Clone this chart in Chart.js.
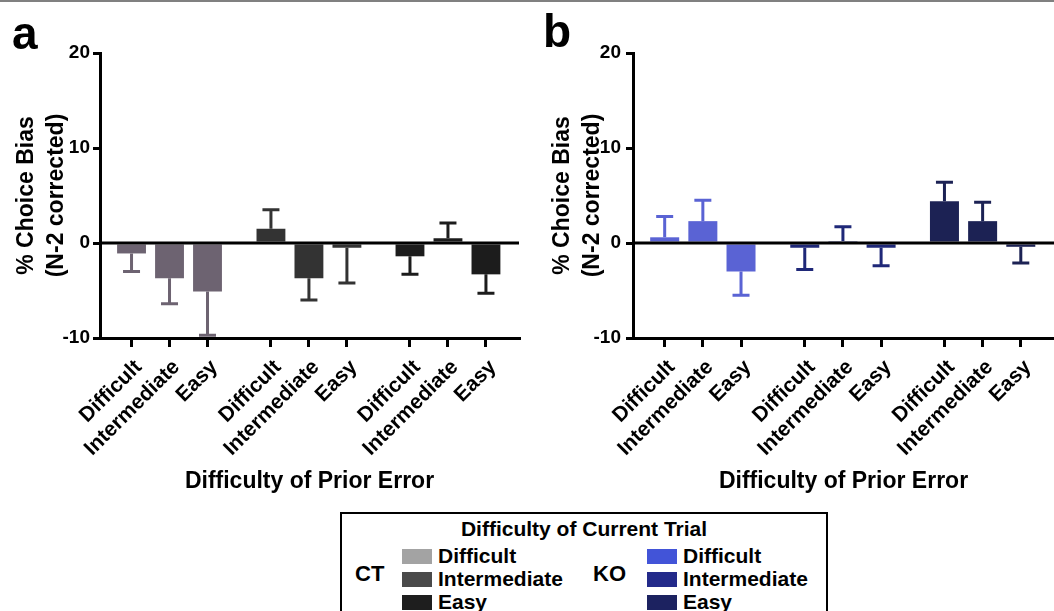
<!DOCTYPE html>
<html>
<head>
<meta charset="utf-8">
<script src="https://cdn.jsdelivr.net/npm/chart.js@4.4.1/dist/chart.umd.min.js"></script>
<style>
body { margin: 0; background: #fff; }
#wrap { position: relative; width: 1054px; height: 611px; overflow: hidden; font-family: "Liberation Sans", Arial, sans-serif; font-weight: bold; color: #000; }
#topline { position: absolute; left: 0; top: 0; width: 1054px; height: 2px; background: #808080; }
canvas { position: absolute; top: 0; }
.letter { position: absolute; font-size: 46px; line-height: 1; }
#legend { position: absolute; left: 340px; top: 512px; width: 488px; height: 120px; border: 2px solid #000; box-sizing: border-box; }
#legend .ttl { position: absolute; left: 0; width: 100%; top: 3px; text-align: center; font-size: 21px; }
#legend .grp { position: absolute; top: 47px; font-size: 22px; }
#legend .row { position: absolute; height: 23px; font-size: 21px; line-height: 23px; white-space: nowrap; }
#legend .sw { display: inline-block; width: 30px; height: 15px; vertical-align: -1px; margin-right: 6px; }
</style>
</head>
<body>
<div id="wrap">
  <div id="topline"></div>
  <canvas id="chartA" width="527" height="500" style="left:0"></canvas>
  <canvas id="chartB" width="527" height="500" style="left:527px"></canvas>
  <div class="letter" style="left:12px;top:10px">a</div>
  <div class="letter" style="left:543px;top:8px">b</div>
  <div id="legend"></div>
</div>
<script>
// positions of the nine bars on the x axis (three groups of three)
const xPositions = [0, 1, 2, 3.67, 4.67, 5.67, 7.33, 8.33, 9.33];
const tickLabels = ['Difficult', 'Intermediate', 'Easy', 'Difficult', 'Intermediate', 'Easy', 'Difficult', 'Intermediate', 'Easy'];
const yTicks = [-10, 0, 10, 20];

// panel a: CT mice
const ctMeans = [-1.1, -3.7, -5.1, 1.5, -3.7, -0.5, -1.4, 0.5, -3.3];
const ctSem = [1.9, 2.7, 4.6, 2.0, 2.3, 3.7, 1.9, 1.6, 2.0];

// panel b: KO mice
const koMeans = [0.6, 2.3, -3.0, -0.5, 0.2, -0.5, 4.4, 2.3, -0.4];
const koSem = [2.2, 2.2, 2.5, 2.3, 1.5, 1.9, 2.0, 2.0, 1.7];

const legendTitle = 'Difficulty of Current Trial';
const currentLabels = ['Difficult', 'Intermediate', 'Easy'];

const FONT = '"Liberation Sans", Arial, sans-serif';

const errorBars = {
    id: 'errorBars',
    afterDatasetsDraw(chart, args, opts) {
        const { ctx, chartArea } = chart;
        const y = chart.scales.y;
        const ds = chart.data.datasets[0];
        const meta = chart.getDatasetMeta(0);
        ctx.save();
        ctx.lineWidth = 3;
        meta.data.forEach((bar, i) => {
            const m = ds.data[i].y;
            const end = y.getPixelForValue(m + Math.sign(m) * opts.sem[i]);
            ctx.strokeStyle = ds.backgroundColor[i];
            ctx.beginPath();
            ctx.moveTo(bar.x, bar.y);
            ctx.lineTo(bar.x, end);
            ctx.moveTo(bar.x - 8.5, end);
            ctx.lineTo(bar.x + 8.5, end);
            ctx.stroke();
        });
        // zero line on top of the bars
        const y0 = y.getPixelForValue(0);
        ctx.strokeStyle = '#000';
        ctx.beginPath();
        ctx.moveTo(chartArea.left, y0);
        ctx.lineTo(chartArea.right, y0);
        ctx.stroke();
        ctx.restore();
    }
};

function makeChart(id, means, sem, colors, axisW, padRight, titlePad, tickPad) {
    const barColors = means.map((_, i) => colors[Math.floor(i / 3)]);
    return new Chart(document.getElementById(id), {
        type: 'bar',
        data: {
            datasets: [{
                data: means.map((v, i) => ({ x: xPositions[i], y: v })),
                backgroundColor: barColors,
                borderWidth: 0,
                categoryPercentage: 1,
                barPercentage: 0.76
            }]
        },
        options: {
            responsive: false,
            animation: false,
            devicePixelRatio: 1,
            layout: { padding: { top: 53, right: padRight, left: 0, bottom: 0 } },
            plugins: {
                legend: { display: false },
                tooltip: { enabled: false },
                errorBars: { sem: sem }
            },
            scales: {
                x: {
                    type: 'linear',
                    min: -0.83,
                    max: 10.2,
                    offset: false,
                    afterBuildTicks: s => { s.ticks = xPositions.map(v => ({ value: v })); },
                    afterFit: s => { s.height = 162; },
                    border: { color: '#000', width: 3 },
                    grid: { drawOnChartArea: false, offset: false, color: '#000', lineWidth: 3, tickLength: 9 },
                    ticks: {
                        autoSkip: false, minRotation: 45, maxRotation: 45, padding: 8, labelOffset: 7, color: '#000',
                        font: { family: FONT, size: 21, weight: 'bold' },
                        callback: (v, i) => tickLabels[i]
                    },
                    title: {
                        display: true, text: 'Difficulty of Prior Error', color: '#000',
                        font: { family: FONT, size: 23, weight: 'bold', lineHeight: 1.2 },
                        padding: { top: 0, bottom: 5 }
                    }
                },
                y: {
                    min: -10,
                    max: 20,
                    afterBuildTicks: s => { s.ticks = yTicks.map(v => ({ value: v })); },
                    afterFit: s => { s.width = axisW; },
                    border: { color: '#000', width: 3 },
                    grid: { drawOnChartArea: false, color: '#000', lineWidth: 3, tickLength: 7 },
                    ticks: { padding: tickPad, color: '#000', font: { family: FONT, size: 19, weight: 'bold' } },
                    title: {
                        display: true, text: ['% Choice Bias', '(N-2 corrected)'], color: '#000',
                        font: { family: FONT, size: 23, weight: 'bold', lineHeight: 1.3 },
                        padding: { top: titlePad, bottom: 0 }
                    }
                }
            }
        },
        plugins: [errorBars]
    });
}

makeChart('chartA', ctMeans, ctSem, ['#6d6371', '#333333', '#1c1c1c'], 100, 8, 12, 3);
makeChart('chartB', koMeans, koSem, ['#5a63d4', '#1f2878', '#1c2254'], 106, 0, 21, 5);

// legend box
function buildLegend() {
    const box = document.getElementById('legend');
    let html = `<div class="ttl">${legendTitle}</div>`;
    html += `<div class="grp" style="left:13px">CT</div>`;
    html += `<div class="grp" style="left:251px">KO</div>`;
    const ctSw = ['#a3a3a3', '#4a4a4a', '#1e1e1e'];
    const koSw = ['#4254d8', '#232a8a', '#1c2260'];
    currentLabels.forEach((lab, i) => {
        const top = 30 + i * 23;
        html += `<div class="row" style="left:60px;top:${top}px"><span class="sw" style="background:${ctSw[i]}"></span>${lab}</div>`;
        html += `<div class="row" style="left:305px;top:${top}px"><span class="sw" style="background:${koSw[i]}"></span>${lab}</div>`;
    });
    box.innerHTML = html;
}
buildLegend();
</script>
</body>
</html>
